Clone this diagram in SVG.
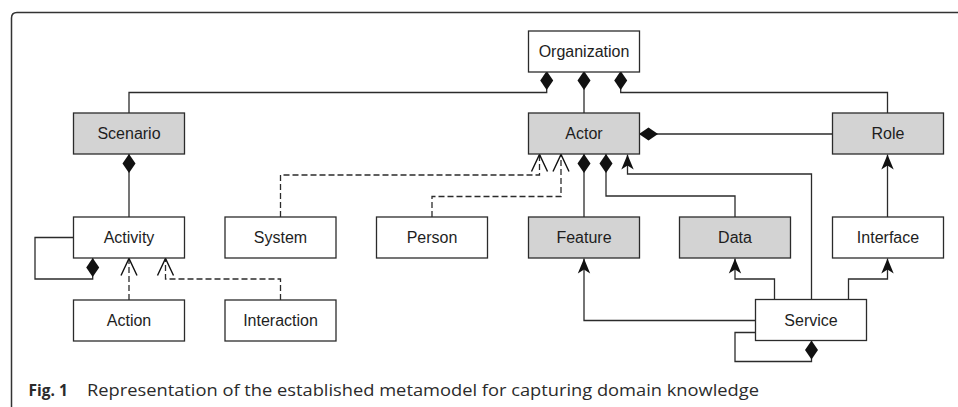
<svg xmlns="http://www.w3.org/2000/svg" width="958" height="407" viewBox="0 0 958 407">
<style>
.box rect{fill:#fff;stroke:#2b2b2b;stroke-width:1.3}
.box.g rect{fill:#d3d3d3}
.box text{font-family:"Liberation Sans",Arial,sans-serif;font-size:16px;fill:#1e1e1e;text-anchor:middle}
.c{fill:none;stroke:#2b2b2b;stroke-width:1.3}
.d{stroke-dasharray:6,3}
.dia{marker-start:url(#diamond)}
.arr{marker-end:url(#arrow)}
.open{marker-end:url(#open)}
.cap{font-family:"Open Sans","DejaVu Sans",sans-serif;font-size:15.5px;fill:#2b2b2b}
</style>
<defs>
<marker id="diamond" markerUnits="userSpaceOnUse" orient="auto" refX="0" refY="0" markerWidth="20" markerHeight="14" overflow="visible">
<path d="M0,0 L9.5,-6.5 L19,0 L9.5,6.5 Z" fill="#111" stroke="none"/>
</marker>
<marker id="arrow" markerUnits="userSpaceOnUse" orient="auto" refX="0" refY="0" markerWidth="16" markerHeight="14" overflow="visible">
<path d="M0,0 L-15,-6.2 L-11,0 L-15,6.2 Z" fill="#111" stroke="none"/>
</marker>
<marker id="open" markerUnits="userSpaceOnUse" orient="auto" refX="0" refY="0" markerWidth="18" markerHeight="18" overflow="visible">
<path d="M-17,-8 L0,0 L-17,8" fill="none" stroke="#111" stroke-width="1.4" stroke-dasharray="none"/>
</marker>
</defs>
<path d="M11.5,407 V18 Q11.5,12.5 17,12.5 H958" fill="none" stroke="#333" stroke-width="1.5"/>
<g id="connectors">
<path class="c dia" d="M546.7,71 V92.5 H129 V113"/>
<path class="c dia" d="M584,71 V113"/>
<path class="c dia" d="M620.7,71 V92.5 H887.5 V113"/>
<path class="c dia" d="M639,134 H832.5"/>
<path class="c dia" d="M129,154 V217"/>
<path class="c dia" d="M92.7,258 V279 H35 V237.5 H73.5"/>
<path class="c d open" d="M129,300 V258.5"/>
<path class="c d open" d="M280.5,300 V279 H165.5 V258.5"/>
<path class="c d open" d="M280.5,217 V175 H539.5 V154.5"/>
<path class="c d open" d="M432,217 V196.5 H561 V154.5"/>
<path class="c dia" d="M584,154 V217"/>
<path class="c dia" d="M606,154 V196 H735 V217"/>
<path class="c arr" d="M811.5,299.5 V174 H627.5 V154.5"/>
<path class="c arr" d="M887.5,217 V154.5"/>
<path class="c arr" d="M755.5,320.5 H584 V258.5"/>
<path class="c arr" d="M774.5,299.5 V279 H735 V258.5"/>
<path class="c arr" d="M848.5,299.5 V279 H887.5 V258.5"/>
<path class="c dia" d="M811.5,340.5 V361.5 H735 V332.5 H755.5"/>
</g>
<g id="organization" class="box"><rect x="528.5" y="31" width="111" height="41"/><text x="584" y="57.3">Organization</text></g>
<g id="scenario" class="box g"><rect x="73.5" y="113" width="111" height="41"/><text x="129" y="139.3">Scenario</text></g>
<g id="actor" class="box g"><rect x="528.5" y="113" width="111" height="41"/><text x="584" y="139.3">Actor</text></g>
<g id="role" class="box g"><rect x="832.5" y="113" width="111" height="41"/><text x="888" y="139.3">Role</text></g>
<g id="activity" class="box"><rect x="73.5" y="217" width="111" height="41"/><text x="129" y="243.3">Activity</text></g>
<g id="system" class="box"><rect x="225" y="217" width="111" height="41"/><text x="280.5" y="243.3">System</text></g>
<g id="person" class="box"><rect x="376.5" y="217" width="111" height="41"/><text x="432" y="243.3">Person</text></g>
<g id="feature" class="box g"><rect x="528.5" y="217" width="111" height="41"/><text x="584" y="243.3">Feature</text></g>
<g id="data" class="box g"><rect x="679.5" y="217" width="111" height="41"/><text x="735" y="243.3">Data</text></g>
<g id="interface" class="box"><rect x="832.5" y="217" width="111" height="41"/><text x="888" y="243.3">Interface</text></g>
<g id="action" class="box"><rect x="73.5" y="300" width="111" height="41"/><text x="129" y="326.3">Action</text></g>
<g id="interaction" class="box"><rect x="225" y="300" width="111" height="41"/><text x="280.5" y="326.3">Interaction</text></g>
<g id="service" class="box"><rect x="755.5" y="299.5" width="111" height="41"/><text x="811" y="325.8">Service</text></g>
<text class="cap" x="28.5" y="395.5"><tspan font-weight="bold">Fig. 1</tspan></text>
<text class="cap" x="87" y="395.5" textLength="672" lengthAdjust="spacingAndGlyphs">Representation of the established metamodel for capturing domain knowledge</text>
</svg>
